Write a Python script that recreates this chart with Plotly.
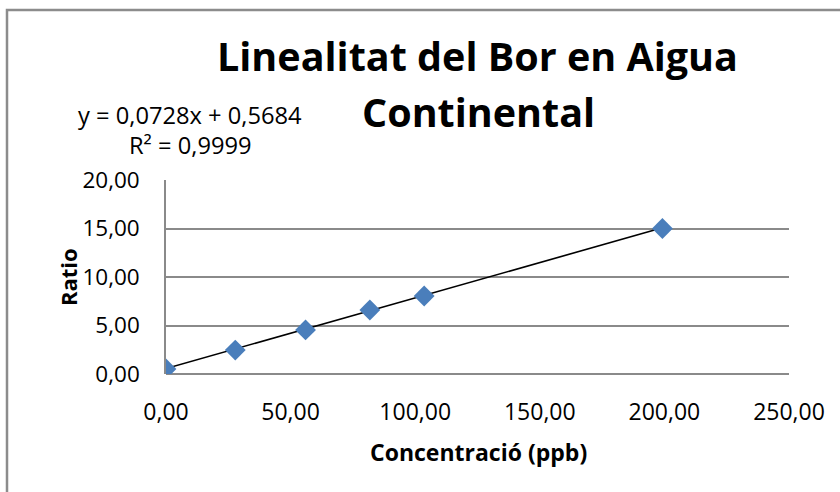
import plotly.graph_objects as go

# Data
concentration = [0.0, 27.8, 56.0, 81.8, 103.6, 199.2]
ratio = [0.52, 2.47, 4.54, 6.60, 8.04, 15.0]
slope = 0.0728
intercept = 0.5684
r2 = 0.9999
x_ticks = [0, 50, 100, 150, 200, 250]
x_tick_labels = ["0,00", "50,00", "100,00", "150,00", "200,00", "250,00"]
y_ticks = [0, 5, 10, 15, 20]
y_tick_labels = ["0,00", "5,00", "10,00", "15,00", "20,00"]
title_lines = ["Linealitat del Bor en Aigua", "Continental"]
x_title = "Concentració (ppb)"
y_title = "Ratio"

W, H = 840, 492
L, R, T, B = 166, 51, 180, 118
PW, PH = W - L - R, H - T - B

def px(x):
    return (x - L) / PW

def py(y):
    return (H - B - y) / PH

FONT = "Open Sans"
GRID = "#8a8a8a"

trend_x = [min(concentration), max(concentration)]
trend_y = [slope * v + intercept for v in trend_x]

fig = go.Figure()
fig.add_trace(go.Scatter(x=trend_x, y=trend_y, mode="lines",
                         line=dict(color="black", width=1.6), showlegend=False,
                         hoverinfo="skip"))
fig.add_trace(go.Scatter(x=concentration, y=ratio, mode="markers",
                         marker=dict(symbol="diamond", size=16, color="#4A7EBB",
                                     line=dict(width=0)),
                         showlegend=False))

fig.update_layout(
    width=W, height=H,
    margin=dict(l=L, r=R, t=T, b=B),
    paper_bgcolor="white", plot_bgcolor="white",
    font=dict(family=FONT, color="black"),
    xaxis=dict(range=[0, 250], tickvals=x_ticks, ticktext=x_tick_labels,
               showgrid=False, zeroline=False, showline=False,
               tickfont=dict(size=23, family=FONT), ticks="",
               ticklabelstandoff=22, fixedrange=True),
    yaxis=dict(range=[0, 20], tickvals=y_ticks, ticktext=y_tick_labels,
               showgrid=True, gridcolor=GRID, gridwidth=1.5,
               zeroline=True, zerolinecolor=GRID, zerolinewidth=1.5,
               showline=True, linecolor=GRID, linewidth=1.5,
               tickfont=dict(size=22.5, family=FONT), ticks="",
               ticklabelstandoff=20, fixedrange=True),
)

ann = []
ann.append(dict(text="<b>%s</b>" % title_lines[0], x=px(477), y=py(56),
                xref="paper", yref="paper", showarrow=False,
                xanchor="center", yanchor="middle",
                font=dict(size=39.5, family=FONT, color="black")))
ann.append(dict(text="<b>%s</b>" % title_lines[1], x=px(478), y=py(112),
                xref="paper", yref="paper", showarrow=False,
                xanchor="center", yanchor="middle",
                font=dict(size=39.5, family=FONT, color="black")))
eq1 = "y = %sx + %s" % (str(slope).replace(".", ","), str(intercept).replace(".", ","))
eq2 = "R² = %s" % str(r2).replace(".", ",")
ann.append(dict(text=eq1, x=px(190), y=py(115), xref="paper", yref="paper",
                showarrow=False, xanchor="center", yanchor="middle",
                font=dict(size=23.7, family=FONT)))
ann.append(dict(text=eq2, x=px(190), y=py(145), xref="paper", yref="paper",
                showarrow=False, xanchor="center", yanchor="middle",
                font=dict(size=23.7, family=FONT)))
ann.append(dict(text="<b>%s</b>" % x_title, x=px(478), y=py(452),
                xref="paper", yref="paper", showarrow=False,
                xanchor="center", yanchor="middle",
                font=dict(size=23, family=FONT)))
ann.append(dict(text="<b>%s</b>" % y_title, x=px(68), y=py(277),
                xref="paper", yref="paper", showarrow=False, textangle=-90,
                xanchor="center", yanchor="middle",
                font=dict(size=22, family=FONT)))
fig.update_layout(annotations=ann)

fig.add_shape(type="rect", xref="paper", yref="paper",
              x0=px(7), y0=py(10), x1=px(860), y1=py(510),
              line=dict(color="#8c8c8c", width=2.5), fillcolor="rgba(0,0,0,0)",
              layer="below")

fig.write_html("out.html", config={"displayModeBar": False},
               post_script="document.body.style.margin='0';"
                           "document.body.style.overflow='hidden';")
